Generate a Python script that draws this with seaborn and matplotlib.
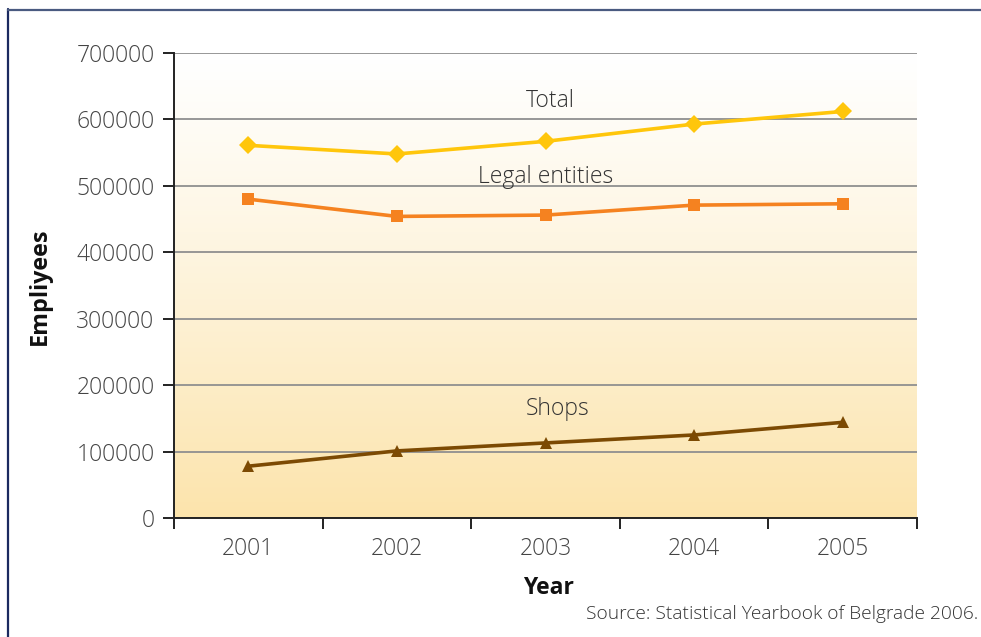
import numpy as np
import pandas as pd
import matplotlib
matplotlib.use("Agg")
import matplotlib.pyplot as plt
import seaborn as sns
from matplotlib.lines import Line2D
from matplotlib.ticker import FixedLocator

years = ["2001", "2002", "2003", "2004", "2005"]
total = [561000, 548000, 567000, 593000, 612000]
legal = [480000, 454000, 456000, 471000, 473000]
shops = [78000, 101000, 113000, 125000, 144000]
series_names = ["Total", "Legal entities", "Shops"]
yticks = [0, 100000, 200000, 300000, 400000, 500000, 600000, 700000]

sns.set_theme(style="white")
plt.rcParams["font.family"] = ["Open Sans", "DejaVu Sans"]

pos = np.arange(len(years))
df = pd.DataFrame({
    "pos": np.tile(pos, 3),
    "value": total + legal + shops,
    "series": np.repeat(series_names, len(years)),
})

fig = plt.figure(figsize=(9.81, 6.37), dpi=100)
ax = fig.add_axes([174/981, 1-518/637, 743/981, 465/637])

# gradient background
top = np.array([255, 255, 255]) / 255
bot = np.array([252, 228, 172]) / 255
t = np.linspace(0, 1, 256)[:, None] ** 1.15
grad = (top * (1 - t) + bot * t)[:, None, :]
ax.imshow(grad, extent=[-0.5, 4.5, 0, 700000], aspect="auto", zorder=0, origin="upper")

palette = {"Total": "#FFC60B", "Legal entities": "#F58220", "Shops": "#7C4A03"}
markers = {"Total": "D", "Legal entities": "s", "Shops": "^"}
sizes = {"Total": 9, "Legal entities": 9, "Shops": 8}
for name in series_names:
    sub = df[df["series"] == name]
    sns.lineplot(data=sub, x="pos", y="value", color=palette[name], lw=2.6,
                 marker=markers[name], markersize=sizes[name], markeredgewidth=0,
                 ax=ax, zorder=3, legend=False)

ax.set_xlim(-0.5, 4.5)
ax.set_ylim(0, 700000)
ax.set_yticks(yticks)
ax.set_yticklabels([str(v) for v in yticks])
ax.xaxis.set_major_locator(FixedLocator(np.arange(-0.5, 5, 1)))
ax.set_xticklabels([""] * 6)
ax.set_xticks(pos, minor=True)
ax.set_xticklabels(years, minor=True)
ax.tick_params(axis="x", which="minor", length=0, pad=14, labelsize=16.5, labelcolor="#444444")
ax.tick_params(axis="x", which="major", length=8, width=1.4, color="#222222", direction="out", bottom=True)
ax.tick_params(axis="y", length=8, width=1.4, color="#222222", direction="out", left=True,
               labelsize=16.5, labelcolor="#444444", pad=6)
for lab in ax.get_yticklabels() + ax.get_xticklabels(minor=True):
    lab.set_fontweight("light")

ax.grid(axis="y", color="#8f8f8f", lw=1.3, zorder=1)
ax.set_axisbelow(True)
for s in ["top", "right"]:
    ax.spines[s].set_visible(False)
for s in ["left", "bottom"]:
    ax.spines[s].set_color("#222222")
    ax.spines[s].set_linewidth(1.4)

ax.set_xlabel("")
ax.set_ylabel("")
fig.text(548/981, 1-588/637, "Year", fontsize=16.5, fontweight="bold", color="#111111",
         ha="center", va="center")
fig.text(40/981, 1-286/637, "Empliyees", fontsize=16.8, fontweight="bold", color="#111111",
         ha="center", va="center", rotation=90)

lbl_kw = dict(fontsize=16.5, color="#333333", ha="center", va="center", zorder=4, fontweight="light")
ax.text(2.03, 627000, "Total", **lbl_kw)
ax.text(2.0, 514000, "Legal entities", **lbl_kw)
ax.text(2.08, 164000, "Shops", **lbl_kw)

fig.text(978/981, 1-614/637, "Source: Statistical Yearbook of Belgrade 2006.", ha="right", va="center",
         fontsize=13.8, color="#333333", fontweight="light")

# frame
fig.add_artist(Line2D([8/981, 8/981], [0, 1-9/637], color="#1B2A60", lw=1.6, transform=fig.transFigure))
fig.add_artist(Line2D([8/981, 1], [1-9.5/637, 1-9.5/637], color="#4A5A80", lw=1.6, transform=fig.transFigure))

fig.savefig("out.png", dpi=100)
